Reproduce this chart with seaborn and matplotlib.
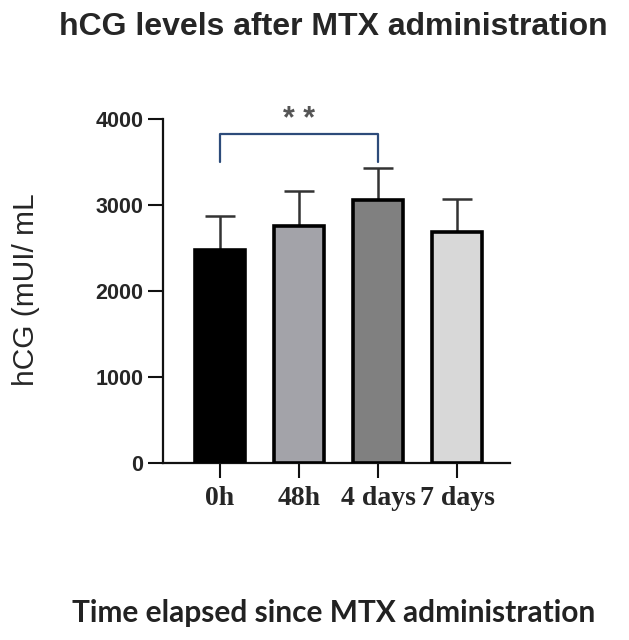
import numpy as np
import pandas as pd
import seaborn as sns
from matplotlib import pyplot as plt

times = ["0h", "48h", "4 days", "7 days"]
means = [2480, 2760, 3060, 2690]
sds = [390, 400, 370, 380]
colors = ["#000000", "#a2a2aa", "#808080", "#d8d8d8"]
y_ticks = [0, 1000, 2000, 3000, 4000]

df = pd.DataFrame({"time": times, "hcg": means})

sns.set_style("ticks")
plt.rcParams["font.family"] = ["Liberation Sans", "DejaVu Sans"]

fig = plt.figure(figsize=(6.29, 6.40), dpi=100)
ax = fig.add_axes([0.259, 0.277, 0.552, 0.537])

sns.barplot(data=df, x="time", y="hcg", hue="time", palette=colors, legend=False,
            width=0.63, edgecolor="black", linewidth=2.6, ax=ax, zorder=3)

x_pos = np.arange(len(times))
ax.errorbar(x_pos, means, yerr=[np.zeros(len(sds)), sds], fmt="none",
            ecolor="#333333", elinewidth=1.8, capsize=11, capthick=1.8, zorder=2)

# significance bracket 0h vs 4 days
y_br = 3830
ax.plot([0, 0, 2, 2], [y_br - 330, y_br, y_br, y_br - 330], color="#2d4b7a", lw=1.6, clip_on=False)
ax.text(1, 3990, "* *", ha="center", va="center", fontsize=22, fontweight="bold",
        color="#555555", clip_on=False)

ax.set_ylim(0, 4000)
ax.set_xlim(-0.72, 3.67)
ax.set_yticks(y_ticks)
ax.set_yticklabels([str(t) for t in y_ticks], fontsize=15.5, fontweight="bold")
ax.set_xticks(x_pos)
ax.set_xticklabels(times, fontsize=20, fontweight="bold", family=["Liberation Serif"])
ax.tick_params(axis="both", width=1.5, color="#111111")
ax.tick_params(axis="y", length=11, pad=3)
ax.tick_params(axis="x", length=11, pad=6)

for side in ["top", "right"]:
    ax.spines[side].set_visible(False)
for side in ["left", "bottom"]:
    ax.spines[side].set_linewidth(1.6)
    ax.spines[side].set_color("#111111")

ax.set_xlabel("")
ax.set_ylabel("")
fig.text(0.042, 0.548, "hCG (mUI/ mL", rotation=90, ha="center", va="center", fontsize=21.5)

fig.text(0.53, 0.945, "hCG levels after MTX administration", ha="center", va="baseline",
         fontsize=23, fontweight="bold")
fig.text(0.531, 0.028, "Time elapsed since MTX administration", ha="center", va="baseline",
         fontsize=21.5, fontweight="bold", color="#222222", family=["Lato", "DejaVu Sans"])

fig.savefig("out.png", dpi=100)
